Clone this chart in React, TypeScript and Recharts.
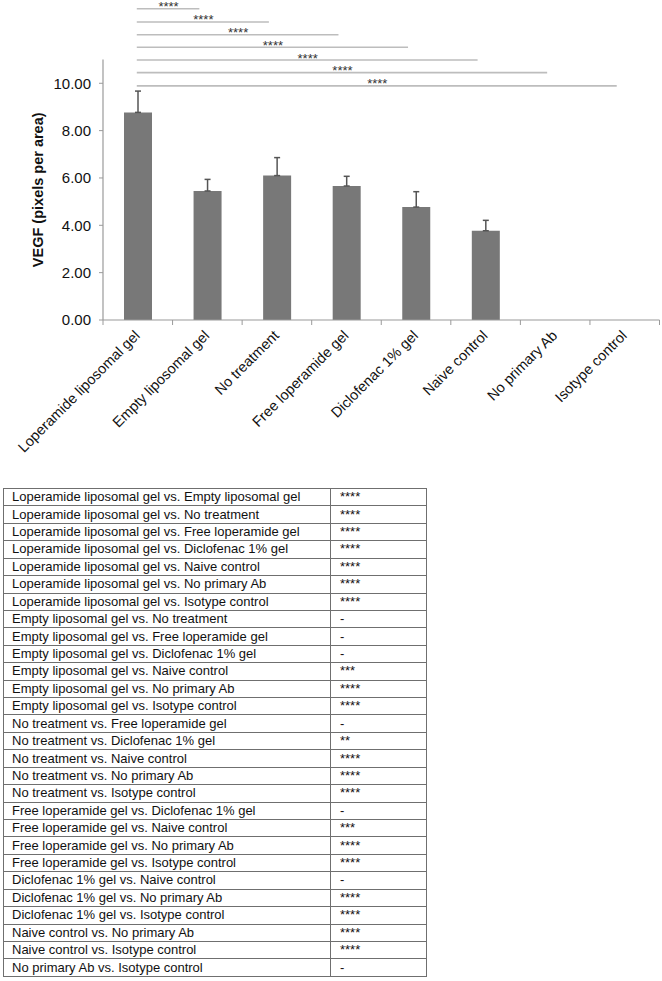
import React from 'react';
import { BarChart, Bar, XAxis, YAxis, ErrorBar, ReferenceLine } from 'recharts';

const categories = [
  'Loperamide liposomal gel',
  'Empty liposomal gel',
  'No treatment',
  'Free loperamide gel',
  'Diclofenac 1% gel',
  'Naive control',
  'No primary Ab',
  'Isotype control',
];
const vegfMeans = [8.77, 5.45, 6.1, 5.66, 4.77, 3.77, 0, 0];
const vegfErrors = [0.9, 0.49, 0.76, 0.41, 0.65, 0.44, null, null];
const yTicks = [0, 2, 4, 6, 8, 10];

// significance brackets: Loperamide liposomal gel vs. category index
const bracketTargets = [1, 2, 3, 4, 5, 6, 7];
const bracketLevels = [13.15, 12.59, 12.05, 11.52, 10.98, 10.45, 9.89];
const bracketLabels = ['****', '****', '****', '****', '****', '****', '****'];

const comparisons = [
  'Loperamide liposomal gel vs. Empty liposomal gel',
  'Loperamide liposomal gel vs. No treatment',
  'Loperamide liposomal gel vs. Free loperamide gel',
  'Loperamide liposomal gel vs. Diclofenac 1% gel',
  'Loperamide liposomal gel vs. Naive control',
  'Loperamide liposomal gel vs. No primary Ab',
  'Loperamide liposomal gel vs. Isotype control',
  'Empty liposomal gel vs. No treatment',
  'Empty liposomal gel vs. Free loperamide gel',
  'Empty liposomal gel vs. Diclofenac 1% gel',
  'Empty liposomal gel vs. Naive control',
  'Empty liposomal gel vs. No primary Ab',
  'Empty liposomal gel vs. Isotype control',
  'No treatment vs. Free loperamide gel',
  'No treatment vs. Diclofenac 1% gel',
  'No treatment vs. Naive control',
  'No treatment vs. No primary Ab',
  'No treatment vs. Isotype control',
  'Free loperamide gel vs. Diclofenac 1% gel',
  'Free loperamide gel vs. Naive control',
  'Free loperamide gel vs. No primary Ab',
  'Free loperamide gel vs. Isotype control',
  'Diclofenac 1% gel vs. Naive control',
  'Diclofenac 1% gel vs. No primary Ab',
  'Diclofenac 1% gel vs. Isotype control',
  'Naive control vs. No primary Ab',
  'Naive control vs. Isotype control',
  'No primary Ab vs. Isotype control',
];
const significance = [
  '****', '****', '****', '****', '****', '****', '****',
  '-', '-', '-', '***', '****', '****',
  '-', '**', '****', '****', '****',
  '-', '***', '****', '****',
  '-', '****', '****',
  '****', '****',
  '-',
];

const chartData = categories.map((name, i) => ({
  name,
  vegf: vegfMeans[i],
  err: vegfErrors[i] == null ? null : [0, vegfErrors[i]],
}));

const FONT = 'Arial, "Liberation Sans", Helvetica, sans-serif';
const AXIS_GREY = '#9a9a9a';

const XTick = (props: any) => {
  const { x, y, payload, index } = props;
  const half = payload && payload.offset ? payload.offset : 34.75;
  const last = index === categories.length - 1;
  const ax = x + 3;
  const ay = y + 16.5;
  return (
    <g>
      <line x1={x - half} y1={y} x2={x - half} y2={y + 5} stroke={AXIS_GREY} strokeWidth={1} />
      {last && <line x1={x + half} y1={y} x2={x + half} y2={y + 5} stroke={AXIS_GREY} strokeWidth={1} />}
      <text
        x={ax}
        y={ay}
        textAnchor="end"
        transform={`rotate(-45, ${ax}, ${ay})`}
        fontSize={14.5}
        fontFamily={FONT}
        fill="#111"
      >
        {payload.value}
      </text>
    </g>
  );
};

const YLabel = (props: any) => {
  const vb = props.viewBox || { x: 43, y: 60, width: 60, height: 260 };
  const cx = vb.x + 0.5;
  const cy = vb.y + vb.height / 2;
  return (
    <text
      x={cx}
      y={cy}
      textAnchor="middle"
      transform={`rotate(-90, ${cx}, ${cy})`}
      fontSize={14.5}
      fontWeight="bold"
      fontFamily={FONT}
      fill="#111"
    >
      VEGF (pixels per area)
    </text>
  );
};

const BracketShape = (props: any) => {
  const { x1, y1, x2, y2 } = props;
  return <line x1={x1 - 1} y1={y1} x2={x2 - 8} y2={y2} stroke="#bdbdbd" strokeWidth={1.6} />;
};

export default function App() {
  return (
    <div style={{ position: 'absolute', left: 0, top: 0, width: 662, height: 981, background: '#fff' }}>
      <BarChart
        width={662}
        height={470}
        data={chartData}
        margin={{ top: 59.6, right: 2.5, bottom: 0, left: 43 }}
      >
        <XAxis
          dataKey="name"
          interval={0}
          tickSize={0}
          tickMargin={0}
          tickLine={false}
          axisLine={{ stroke: AXIS_GREY, strokeWidth: 1.2 }}
          tick={<XTick />}
          height={150}
        />
        <YAxis
          width={60}
          domain={[0, 11]}
          ticks={yTicks}
          allowDataOverflow
          tickFormatter={(v: number) => v.toFixed(2)}
          tick={{ fontSize: 15, fontFamily: FONT, fill: '#111' }}
          tickSize={4}
          tickMargin={8}
          tickLine={{ stroke: AXIS_GREY }}
          axisLine={{ stroke: AXIS_GREY, strokeWidth: 1.2 }}
          label={<YLabel />}
        />
        <Bar dataKey="vegf" fill="#787878" barSize={28} isAnimationActive={false}>
          <ErrorBar dataKey="err" width={3} stroke="#555" strokeWidth={1.5} direction="y" isAnimationActive={false} />
        </Bar>
        {bracketTargets.map((t, i) => (
          <ReferenceLine
            key={`br-${i}`}
            ifOverflow="visible"
            segment={[
              { x: categories[0], y: bracketLevels[i] },
              { x: categories[t], y: bracketLevels[i] },
            ]}
            shape={<BracketShape />}
            label={(p: any) => {
              const vb = p.viewBox || {};
              const x1 = vb.x ?? 0;
              const w = vb.width ?? 0;
              const yy = vb.y ?? 0;
              return (
                <text
                  x={x1 + (w - 8) / 2}
                  y={yy + 2.5}
                  textAnchor="middle"
                  fontSize={13}
                  fontFamily={FONT}
                  fill="#333"
                >
                  {bracketLabels[i]}
                </text>
              );
            }}
          />
        ))}
      </BarChart>
      <table
        style={{
          position: 'absolute',
          left: 3,
          top: 488,
          width: 423,
          height: 489,
          borderCollapse: 'collapse',
          fontFamily: FONT,
          fontSize: 13,
          color: '#111',
          tableLayout: 'fixed',
        }}
      >
        <colgroup>
          <col style={{ width: 327 }} />
          <col style={{ width: 96 }} />
        </colgroup>
        <tbody>
          {comparisons.map((c, i) => (
            <tr key={i} style={{ height: 10 }}>
              <td style={{ border: '1px solid #6f6f6f', padding: '0 0 0 8px', lineHeight: '14px', whiteSpace: 'nowrap' }}>{c}</td>
              <td style={{ border: '1px solid #6f6f6f', padding: '0 0 0 9px', lineHeight: '14px', whiteSpace: 'nowrap' }}>{significance[i]}</td>
            </tr>
          ))}
        </tbody>
      </table>
    </div>
  );
}
